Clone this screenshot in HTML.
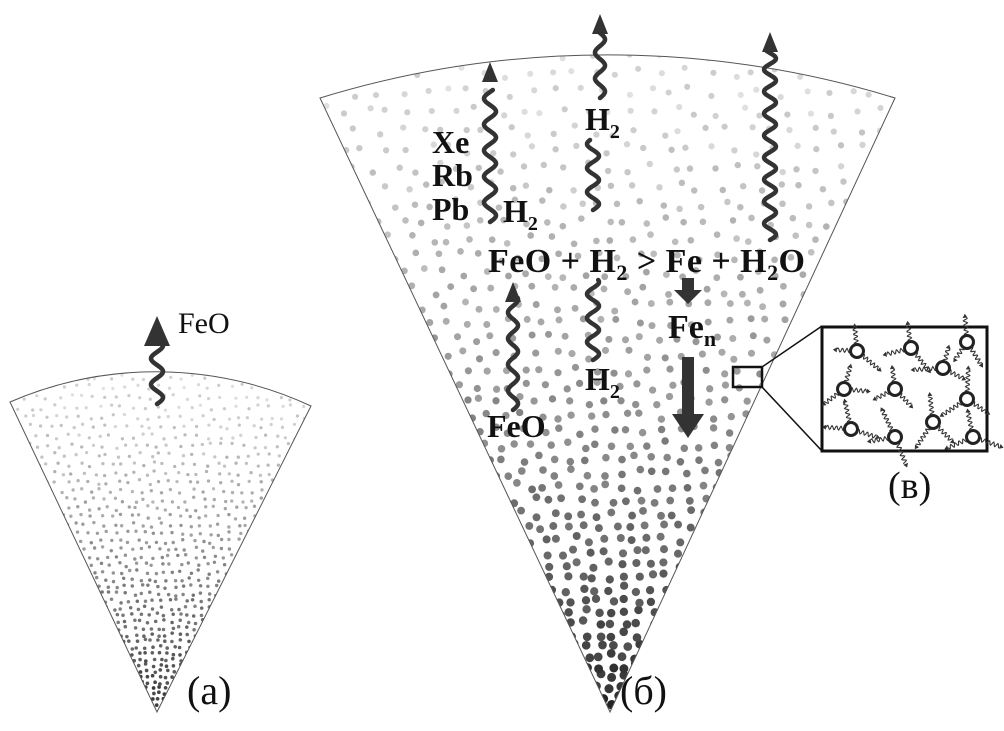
<!DOCTYPE html>
<html><head><meta charset="utf-8">
<style>
html,body{margin:0;padding:0;background:#fff;}
svg{display:block;}
.b{font-family:"Liberation Serif",serif;font-weight:bold;fill:#111;}
.n{font-family:"Liberation Serif",serif;fill:#111;}
</style></head>
<body>
<svg id="s" width="1004" height="731" viewBox="0 0 1004 731" xmlns="http://www.w3.org/2000/svg">
<defs>
<clipPath id="cb"><path d="M610 712 L320 98 A979 979 0 0 1 895 98 Z"/></clipPath>
<clipPath id="ca"><path d="M157 712 L10 402 A368 368 0 0 1 311 406 Z"/></clipPath>
</defs>
<g id="dotsA" clip-path="url(#ca)"></g>
<g id="dotsB" clip-path="url(#cb)"></g>
<path d="M157 712 L10 402 A368 368 0 0 1 311 406 Z" fill="none" stroke="#555" stroke-width="1"/>
<path d="M610 712 L320 98 A979 979 0 0 1 895 98 Z" fill="none" stroke="#555" stroke-width="1"/>
<g id="waves" fill="none" stroke="#333" stroke-width="4.5" stroke-linecap="round"></g>
<g fill="#333">
<polygon points="157,316 144,346 170,346"/>
</g>
<text class="n" x="178" y="333" font-size="30">FeO</text>
<text class="n" x="187" y="704" font-size="40">(a)</text>
<text class="n" x="620" y="704" font-size="40">(б)</text>
<text class="n" x="888" y="498" font-size="38">(в)</text>
<g class="b">
<text x="432" y="153" font-size="32">Xe</text>
<text x="432" y="186" font-size="32">Rb</text>
<text x="432" y="220" font-size="32">Pb</text>
<text x="503" y="222" font-size="32">H<tspan font-size="20" dy="8">2</tspan></text>
<text x="585" y="130" font-size="32">H<tspan font-size="20" dy="8">2</tspan></text>
<text x="585" y="390" font-size="32">H<tspan font-size="20" dy="8">2</tspan></text>
<text x="487" y="437" font-size="32">FeO</text>
<text x="488" y="272" font-size="34" textLength="317" lengthAdjust="spacing">FeO + H<tspan font-size="22" dy="8">2</tspan><tspan dy="-8"> &gt; Fe + H</tspan><tspan font-size="22" dy="8">2</tspan><tspan dy="-8">O</tspan></text>
<text x="668" y="338" font-size="34">Fe<tspan font-size="22" dy="8">n</tspan></text>
</g>
<g fill="#333">
<rect x="682" y="278" width="12" height="12"/><polygon points="674,290 702,290 688,304"/>
<rect x="682" y="357" width="12" height="58"/><polygon points="672,414 704,414 688,438"/>
</g>
<rect x="733" y="367" width="29" height="20" fill="none" stroke="#111" stroke-width="2.5"/>
<line x1="762" y1="367" x2="822" y2="326" stroke="#111" stroke-width="1.5"/>
<line x1="762" y1="387" x2="822" y2="451" stroke="#111" stroke-width="1.5"/>
<rect x="822" y="327" width="165" height="124" fill="#fff" stroke="#111" stroke-width="3"/>
<g id="inset"></g>
</svg>
<script>
(function(){
var NS="http://www.w3.org/2000/svg";
var seed=12345;function r(){seed=(seed*16807)%2147483647;return seed/2147483647;}
function el(p,t,a){var e=document.createElementNS(NS,t);for(var k in a)e.setAttribute(k,a[k]);p.appendChild(e);return e;}
function sector(g,ax,ay,lx,rx,topy,s0,s1,r0,r1,dk){
  var H=ay-topy;var y=ay-s0*0.6;var row=0;
  while(y>topy-5){
    var f=Math.max(0,(ay-y)/H);
    var s=s0+(s1-s0)*Math.pow(f,0.8);
    var off=(row%2)*s*0.5;
    for(var x=lx-20+off;x<rx+20;x+=s){
      var px=x+(r()-0.5)*s*0.5, py=y+(r()-0.5)*s*0.5;
      var ff=Math.max(0,Math.min(1,(ay-py)/H));
      var gv=Math.round(dk+(215-dk)*Math.min(1,Math.pow(ff,0.7)*1.05)+(r()-0.5)*25);
      gv=Math.max(20,Math.min(225,gv));
      var rad=r0+(r1-r0)*Math.pow(ff,0.6);
      el(g,'circle',{cx:px.toFixed(1),cy:py.toFixed(1),r:rad.toFixed(2),fill:'rgb('+gv+','+gv+','+gv+')'});
    }
    y-=s*0.87;row++;
  }
}
sector(document.getElementById('dotsB'),610,712,320,895,55,10.5,23,4.8,3.0,30);
sector(document.getElementById('dotsA'),157,712,10,311,371,5.5,12,1.9,1.6,40);
var wv=document.getElementById('waves');
function wave(x,y1,y2,amp,per){
  var d='M'+x+' '+y1;for(var y=y1;y>=y2;y-=1){d+=' L'+(x+amp*Math.sin((y1-y)/per*2*Math.PI)).toFixed(1)+' '+y;}
  el(wv,'path',{d:d});
}
wave(157,404,342,6,26);
wave(490,222,90,6,26); wave(600,98,30,5,26); wave(593,210,140,6,24); wave(593,360,280,6,24);
wave(770,240,50,6,22); wave(513,410,298,5,26);
var s=document.getElementById('s');
function head(x,y){el(s,'polygon',{points:(x)+','+(y)+' '+(x-8)+','+(y+20)+' '+(x+8)+','+(y+20),fill:'#333'});}
head(490,62);head(600,14);head(770,32);head(513,282);
var ins=document.getElementById('inset');
var C=[[857,351],[911,348],[967,342],[943,368],[844,389],[895,389],[967,399],[851,429],[895,437],[933,422],[973,437]];
C.forEach(function(c){
  for(var k=0;k<3;k++){
    var a=k*2.1+r()*1.2;var L=20+r()*10;var d='M'+c[0]+' '+c[1];var ex,ey;
    for(var t=8;t<=L;t+=0.7){var w=2*Math.sin(t*1.4);ex=c[0]+Math.cos(a)*t-Math.sin(a)*w;ey=c[1]+Math.sin(a)*t+Math.cos(a)*w;d+=' L'+ex.toFixed(1)+' '+ey.toFixed(1);}
    el(ins,'path',{d:d,fill:'none',stroke:'#333','stroke-width':1.1});
    var hx=c[0]+Math.cos(a)*(L+4),hy=c[1]+Math.sin(a)*(L+4);
    var bx=c[0]+Math.cos(a)*L,by=c[1]+Math.sin(a)*L;
    el(ins,'polygon',{points:hx.toFixed(1)+','+hy.toFixed(1)+' '+(bx-Math.sin(a)*2.5).toFixed(1)+','+(by+Math.cos(a)*2.5).toFixed(1)+' '+(bx+Math.sin(a)*2.5).toFixed(1)+','+(by-Math.cos(a)*2.5).toFixed(1),fill:'#333'});
  }
});
C.forEach(function(c){el(ins,'circle',{cx:c[0],cy:c[1],r:6.5,fill:'#fff',stroke:'#222','stroke-width':3});});
})();
</script>
</body></html>
